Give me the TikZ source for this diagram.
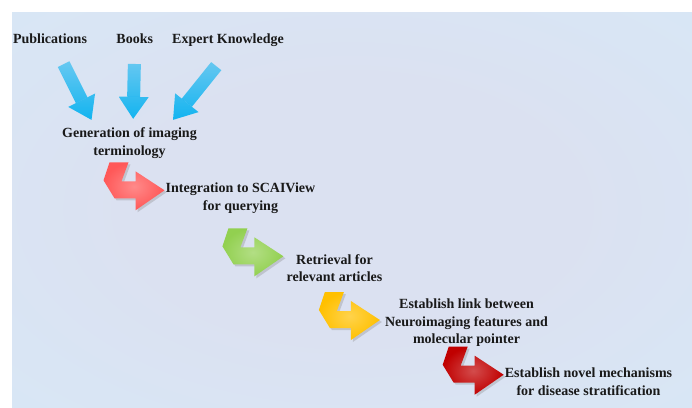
\documentclass[tikz,border=0pt]{standalone}
\usepackage{fontspec}
\setmainfont{Liberation Serif}
\usetikzlibrary{arrows.meta, shadows, fadings}
\definecolor{bgmid}{RGB}{219,225,241}
\definecolor{bgedge}{RGB}{211,241,253}
\definecolor{srcblue}{RGB}{0,176,240}
\definecolor{stepred}{RGB}{255,88,88}
\definecolor{stepgreen}{RGB}{146,208,80}
\definecolor{stepyellow}{RGB}{255,192,0}
\definecolor{stepdark}{RGB}{192,0,0}
\definecolor{txt}{RGB}{25,25,25}
\pgfdeclareradialshading{bgglow}{\pgfpoint{0bp}{0bp}}{color(0bp)=(bgmid); color(16bp)=(bgmid); color(72bp)=(bgedge)}
\tikzfading[name=tailfade, top color=transparent!60, bottom color=transparent!0]

\begin{document}
\begin{tikzpicture}[
    x=1pt, y=-1pt,
    srclabel/.style={font=\bfseries\fontsize{14}{17}\selectfont, text=txt, anchor=base, inner sep=2pt, text height=10pt, text depth=3.5pt},
    stepnode/.style={font=\bfseries\fontsize{14}{17.5}\selectfont, text=txt, align=center, inner sep=2pt},
    srcarrow/.style={draw=srcblue, line width=13pt, -{Triangle[width=30pt, length=22pt, line width=0pt]}, path fading=tailfade},
    pics/bentarrow/.style={code={
        \shade[inner color=#1!70!white, outer color=#1, drop shadow={opacity=.3, shadow xshift=2pt, shadow yshift=-2pt}]
            (-55,-28) -- (-36,-28) -- (-43,-9) -- (-29,-9) -- (-29,-19) -- (0,0)
            -- (-29,20) -- (-29,8) -- (-50,8) -- (-61,-10) -- cycle;
    }}
]

% ---------- Background ----------
\useasboundingbox (0,0) rectangle (692,407);
\shade[shading=bgglow] (12,12) rectangle (692,407);

% ---------- Sources ----------
\node[srclabel] (pub) at (50,43.3) {Publications};
\node[srclabel] (books) at (134.7,43.3) {Books};
\node[srclabel] (expert) at (228,43.3) {Expert Knowledge};

% ---------- Steps ----------
\node[stepnode] (gen) at (129.5,143.3) {Generation of imaging\\terminology};
\node[stepnode] (integ) at (240.5,198.3) {Integration to SCAIView\\for querying};
\node[stepnode] (retr) at (334.5,268.3) {Retrieval for\\relevant articles};
\node[stepnode] (link) at (466.5,323) {Establish link between\\Neuroimaging features and\\molecular pointer};
\node[stepnode] (novel) at (588.5,381.7) {Establish novel mechanisms\\for disease stratification};

% ---------- Sources into terminology ----------
\draw[srcarrow, shorten <=17pt, shorten >=6.7pt] ([xshift=6pt]pub.south) -- ([xshift=-35pt]gen.north);
\draw[srcarrow, shorten <=15pt, shorten >=7pt] (books.south) -- ([xshift=3.5pt]gen.north);
\draw[srcarrow, shorten <=22pt, shorten >=7.7pt] ([xshift=2pt]expert.south) -- ([xshift=38.7pt]gen.north);

% ---------- Step arrows ----------
\pic at ([xshift=1pt,yshift=8pt]integ.west) {bentarrow=stepred};
\pic at ([xshift=-1pt,yshift=12pt]retr.west) {bentarrow=stepgreen};
\pic at ([xshift=-3pt,yshift=3pt]link.west) {bentarrow=stepyellow};
\pic at ([xshift=1pt,yshift=7pt]novel.west) {bentarrow=stepdark};

\end{tikzpicture}
\end{document}
